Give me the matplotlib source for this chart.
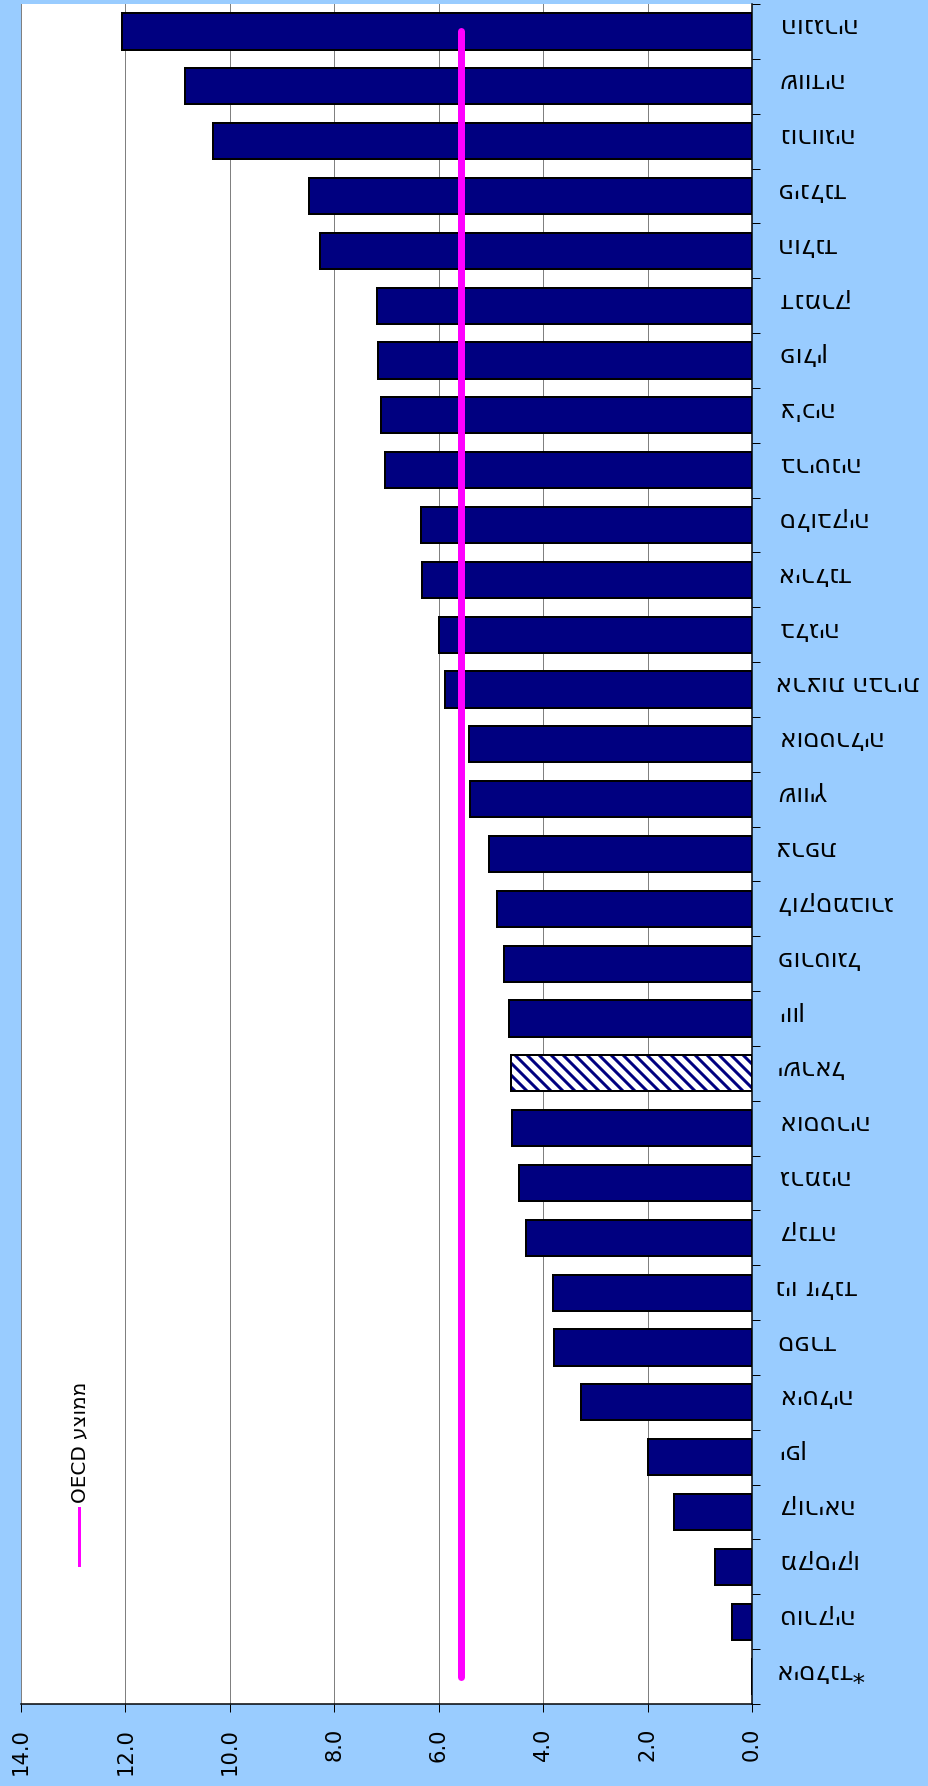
import matplotlib
matplotlib.use("Agg")
import matplotlib.pyplot as plt
from matplotlib.lines import Line2D
from matplotlib.transforms import blended_transform_factory, ScaledTranslation

plt.rcParams['font.family'] = ['DejaVu Sans']
plt.rcParams['hatch.linewidth'] = 3

# ---- data ----
countries = ["הונגריה", "שוודיה", "נורווגיה", "פינלנד", "הולנד", "דנמרק", "פולין",
             "צ'כיה", "בריטניה", "סלובקיה", "אירלנד", "בלגיה", "ארצות הברית",
             "אוסטרליה", "שוויץ", "צרפת", "לוקסמבורג", "פורטוגל", "יוון", "ישראל",
             "אוסטריה", "גרמניה", "קנדה", "ניו זילנד", "ספרד", "איטליה", "יפן",
             "קוריאה", "מקסיקו", "טורקיה", "איסלנד*"]
values = [12.07, 10.85, 10.33, 8.48, 8.28, 7.19, 7.17, 7.10, 7.02, 6.33, 6.32, 6.00,
          5.88, 5.42, 5.40, 5.03, 4.88, 4.75, 4.66, 4.61, 4.59, 4.46, 4.32, 3.82,
          3.79, 3.27, 2.00, 1.50, 0.71, 0.38, 0.0]
highlight = "ישראל"
oecd_avg = 5.58
legend_label = "OECD " + "ממוצע"[::-1]
xticks = [0.0, 2.0, 4.0, 6.0, 8.0, 10.0, 12.0, 14.0]

W, H, DPI = 928, 1786, 72
navy = '#000080'
magenta = '#FF00FF'
bg = '#99CCFF'

fig = plt.figure(figsize=(W / DPI, H / DPI), dpi=DPI, facecolor=bg)
ax = fig.add_axes([21 / W, 1 - 1704 / H, (752 - 21) / W, (1704 - 4) / H])
ax.set_facecolor('white')

n = len(countries)
ypos = list(range(n))
hi = countries.index(highlight)

bars = ax.barh(ypos, values, height=0.66, color=navy, edgecolor='black',
               linewidth=2, zorder=3)
# highlighted (hatched) bar
bars[hi].set_facecolor('white')
bars[hi].set_edgecolor(navy)
bars[hi].set_linewidth(0)
bars[hi].set_hatch('\\\\')
ax.barh([ypos[hi]], [values[hi]], height=0.66, fill=False, edgecolor='black',
        linewidth=2, zorder=3.5)

# OECD average line
ax.plot([oecd_avg] * n, ypos, color=magenta, lw=7, solid_capstyle='round', zorder=4)

# axes
ax.set_xlim(14, 0)
ax.set_ylim(n - 0.5, -0.5)

ax.set_xticks(xticks)
ax.set_xticklabels([f"{v:.1f}" for v in xticks], rotation=90, va='top',
                   ha='center', fontsize=21)
ax.tick_params(axis='x', direction='out', length=8, width=1, pad=16,
               color='black')
ax.grid(axis='x', color='#808080', lw=1, zorder=0)
ax.set_axisbelow(True)

ax.yaxis.tick_right()
ax.set_yticks(ypos)
ax.set_yticklabels([])
ax.set_yticks([i - 0.5 for i in range(n + 1)], minor=True)
ax.tick_params(axis='y', which='major', length=0)
ax.tick_params(axis='y', which='minor', length=8, width=1, direction='out',
               color='black')

# Hebrew category labels: visual (right-to-left) order, shown rotated by 180 degrees
lab_trans = blended_transform_factory(ax.transAxes, ax.transData) + \
    ScaledTranslation(23 / DPI, 6 / DPI, fig.dpi_scale_trans)
for y, c in zip(ypos, countries):
    ax.text(1.0, y, c[::-1], transform=lab_trans, rotation=180, ha='left',
            va='center', fontsize=25, clip_on=False)

for s in ['top', 'left']:
    ax.spines[s].set_visible(False)
ax.spines['right'].set_color('black')
ax.spines['right'].set_linewidth(1.5)
ax.spines['bottom'].set_color('black')
ax.spines['bottom'].set_linewidth(1.5)

# legend (rotated, inside plot area)
fig.add_artist(Line2D([79 / W, 79 / W], [1 - 1508 / H, 1 - 1565 / H],
                      transform=fig.transFigure, color=magenta, lw=3))
fig.text(80 / W, 1 - 1503 / H, legend_label, rotation=90, ha='center',
         va='bottom', fontsize=20)

fig.savefig("out.png", dpi=DPI, facecolor=bg)
